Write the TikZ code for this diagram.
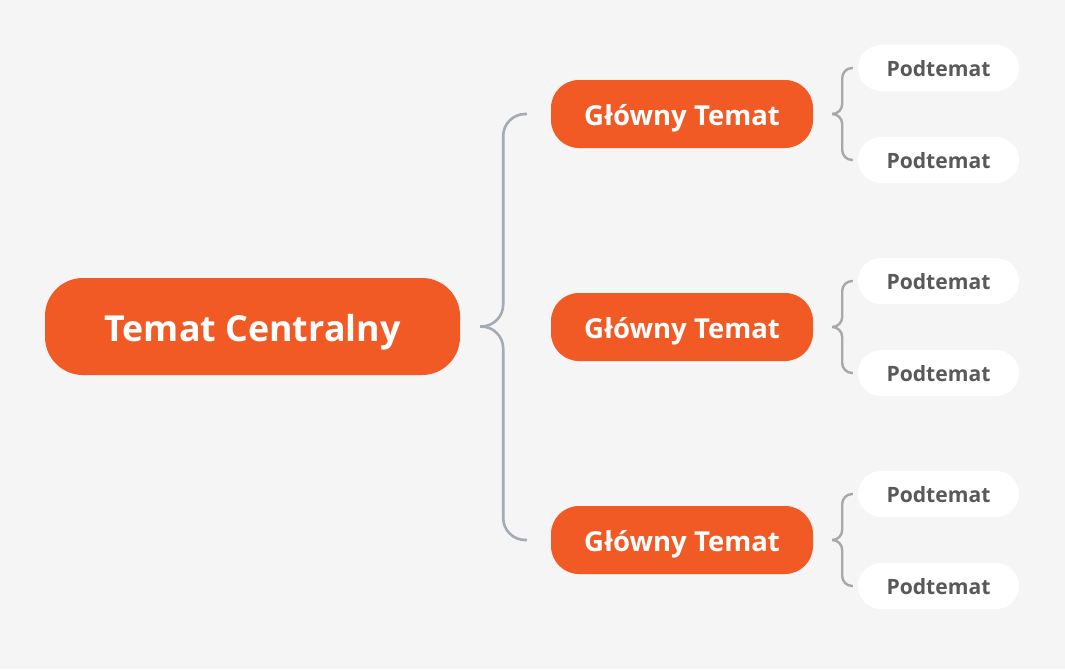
\documentclass[tikz,border=0pt]{standalone}
\usepackage{fontspec}
\setmainfont{Open Sans}
\usepackage{xcolor}
\usepackage{tikz}
\usetikzlibrary{calc,positioning}
\definecolor{topicorange}{HTML}{F15A24}
\definecolor{pagebg}{HTML}{F5F5F5}
\definecolor{braceblue}{HTML}{A3ACB5}
\definecolor{bracegray}{HTML}{A8A8A8}
\definecolor{subtext}{HTML}{595959}

\begin{document}
\begin{tikzpicture}[
  x=1pt,y=-1pt,
  central/.style={rectangle,rounded corners=38pt,fill=topicorange,text=white,inner sep=0pt,
    minimum width=415pt,minimum height=97pt,text height=37.6pt,text depth=7.9pt,
    font=\fontsize{35.8}{40}\selectfont\bfseries},
  maintopic/.style={rectangle,rounded corners=28pt,fill=topicorange,text=white,inner sep=0pt,
    minimum width=262pt,minimum height=68pt,text height=28.9pt,text depth=6pt,
    font=\fontsize{27.5}{30}\selectfont\bfseries},
  subtopic/.style={rectangle,rounded corners=23pt,fill=white,text=subtext,inner sep=0pt,
    minimum width=161pt,minimum height=46pt,text height=22.2pt,text depth=4.6pt,
    font=\fontsize{21.1}{24}\selectfont\bfseries},
  branch/.style={draw=braceblue,line width=2.6pt,rounded corners=22pt},
  subbranch/.style={draw=bracegray,line width=2.4pt,rounded corners=10pt}
]
  \fill[pagebg] (0,0) rectangle (1065,669);
  \useasboundingbox (0,0) rectangle (1065,669);

  \node[central] (c) at (252.5,326.5) {Temat Centralny};

  \node[maintopic] (m1) at (682,114) {Główny Temat};
  \node[maintopic] (m2) at (682,327) {Główny Temat};
  \node[maintopic] (m3) at (682,540) {Główny Temat};

  \node[subtopic] (s1) at (938.5,68) {Podtemat};
  \node[subtopic] (s2) at (938.5,160) {Podtemat};
  \node[subtopic] (s3) at (938.5,281) {Podtemat};
  \node[subtopic] (s4) at (938.5,373) {Podtemat};
  \node[subtopic] (s5) at (938.5,494) {Podtemat};
  \node[subtopic] (s6) at (938.5,586) {Podtemat};

  % brace from the central topic
  \coordinate (ctip) at ([xshift=20pt]c.east);
  \foreach \m in {m1,m3}
    \draw[branch] (ctip) -- ++(23,0) |- ([xshift=-24pt]\m.west);

  % braces to the subtopics
  \foreach \m/\a/\b in {m1/s1/s2,m2/s3/s4,m3/s5/s6} {
    \coordinate (\m tip) at ([xshift=19pt]\m.east);
    \draw[subbranch] (\m tip) -- ++(10,0) |- ([xshift=-5pt]\a.west);
    \draw[subbranch] (\m tip) -- ++(10,0) |- ([xshift=-5pt]\b.west);
  }
\end{tikzpicture}
\end{document}
